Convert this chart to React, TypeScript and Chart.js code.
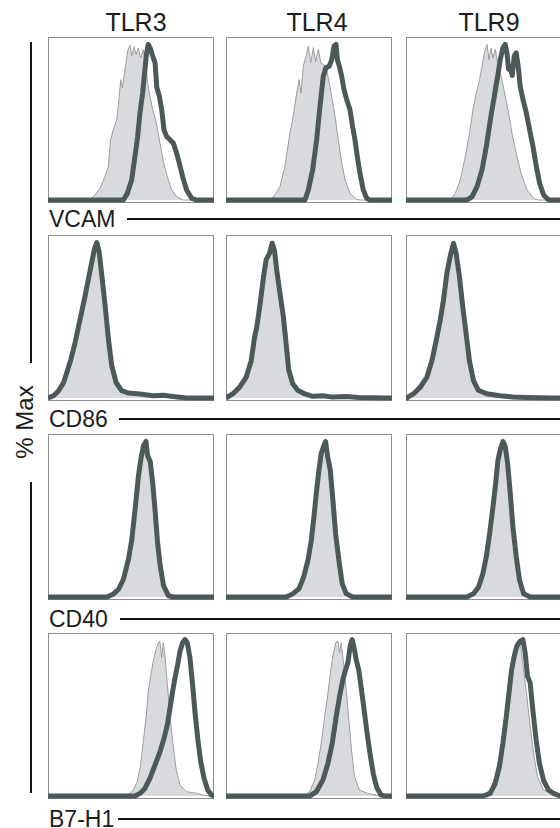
import React, { useEffect, useRef } from "react";
import { Chart, registerables } from "chart.js";

Chart.register(...registerables);

// Column stimuli and row markers
const COLUMN_TITLES = ["TLR3", "TLR4", "TLR9"];
const MARKERS = ["VCAM", "CD86", "CD40", "B7-H1"];
const Y_AXIS_TITLE = "% Max";

// Histograms: [fluorescence channel (0-1000), % of max]
// VCAM
const vcamTlr3Ctrl = [[0,0],[252,0],[283,3.2],[313,7.5],[343,15],[363,21.5],[377,38.7],[393,45],[414,51.6],[429,66.6],[438,77.4],[448,72],[458,79.5],[470,88],[482,96.8],[494,99.4],[504,92.5],[518,98.5],[530,93.5],[544,97.8],[558,91.4],[574,96.8],[590,83.9],[610,68.8],[631,58],[651,50.5],[671,38.7],[695,24.7],[719,15],[745,6.5],[775,2.2],[815,0],[1000,0]];
const vcamTlr3Stim = [[0,0],[454,0],[478,4.3],[504,12.9],[524,28],[540,40.8],[554,56],[570,68.8],[584,83.9],[594,94.6],[604,100],[619,96.8],[631,92.5],[645,88.2],[655,72.5],[671,66.6],[685,58],[699,45],[715,40.8],[735,38.7],[755,36.6],[775,30],[791,23.7],[811,15],[835,6.5],[866,1],[896,0],[1000,0]];
const vcamTlr4Ctrl = [[0,0],[265,0],[295,3.2],[325,8.6],[355,21.5],[385,43],[405,53.7],[426,68.8],[440,77.4],[452,68.8],[466,86],[482,92.5],[496,99],[510,88],[526,98],[540,89],[556,96.8],[572,88],[602,86],[626,73],[651,58],[671,43],[691,28],[717,12.9],[747,4.3],[787,0.4],[810,0],[1000,0]];
const vcamTlr4Stim = [[0,0],[476,0],[496,6.5],[522,19.4],[546,38.7],[566,60],[586,79.5],[602,85],[622,86],[637,90.3],[651,99],[663,100],[671,90],[683,86],[697,79.5],[711,71],[727,64.5],[747,58],[763,47],[777,38.7],[791,28],[807,17.2],[827,6.5],[848,1],[867,0],[1000,0]];
const vcamTlr9Ctrl = [[0,0],[267,0],[297,4.3],[327,12.9],[357,28],[383,43],[403,58],[423,68.8],[443,77.4],[458,86],[472,94.6],[488,100],[500,90.3],[512,97.8],[524,91.4],[538,96.8],[552,88],[578,77.4],[598,66.7],[618,56],[638,43],[664,30],[693,17.2],[729,6.5],[769,1],[799,0],[1000,0]];
const vcamTlr9Stim = [[0,0],[367,0],[397,2],[428,8.6],[458,19.4],[484,34.4],[508,51.6],[532,66.7],[552,79.5],[568,90.3],[584,97.8],[598,100],[608,94.6],[618,84],[628,86],[640,80],[652,92.5],[664,94.6],[676,86],[688,73],[705,64.5],[725,56],[745,45],[765,34.4],[785,21.5],[805,10.8],[829,3.2],[859,0],[1000,0]];

// CD86
const cd86Tlr3Ctrl = [[0,0],[20,0],[50,2.5],[80,6.5],[110,14],[135,23],[162,34],[192,49],[222,64],[244,75],[264,86],[280,95],[294,99.5],[308,93],[322,78],[342,58],[362,36],[382,19],[406,9],[440,4],[480,2.5],[560,2],[640,1],[720,1],[800,0],[1000,0]];
const cd86Tlr3Stim = [[0,0],[4,0],[34,1.5],[64,4.7],[94,10],[114,16.6],[138,25],[164,36],[194,51],[224,66],[244,76.8],[264,87.5],[280,96],[294,100],[308,94],[324,79],[344,59.5],[364,38],[384,20.8],[410,10],[444,4.7],[484,3.2],[554,2.6],[634,1.5],[694,1.8],[754,1],[834,0],[1000,0]];
const cd86Tlr4Ctrl = [[0,0],[20,0],[60,3],[100,8],[135,16],[160,28],[180,42],[205,60],[226,76],[244,88],[264,93],[280,99],[294,93],[308,80],[324,66],[346,49],[362,33],[378,17],[400,8],[430,4],[480,2],[560,1],[700,0.5],[1000,0]];
const cd86Tlr4Stim = [[0,0],[2,0],[42,2.8],[82,7],[122,13.5],[152,24],[172,39],[186,46],[206,61],[226,78],[242,89],[262,93],[278,99.5],[292,95],[306,82],[322,69.5],[346,52],[362,35],[378,18],[402,9.2],[432,5],[472,2.8],[522,1.1],[582,1.5],[642,0.6],[722,1],[802,0.3],[962,0],[1000,0]];
const cd86Tlr9Ctrl = [[0,0],[20,0.5],[60,3.5],[100,9],[135,17],[160,28],[185,42],[205,56],[225,69],[245,83],[266,93],[284,99.5],[300,93],[320,76],[340,56],[360,38],[380,21],[404,10],[436,4.5],[490,2.5],[570,1.2],[700,0.4],[1000,0]];
const cd86Tlr9Stim = [[0,0],[6,0.2],[46,2.8],[86,7],[126,13.5],[156,24],[182,37],[206,50],[226,63],[246,80],[266,91],[286,99.5],[302,93],[322,78],[342,58.7],[362,41.5],[382,24],[406,11.4],[436,5],[486,2.8],[566,1.5],[646,0.6],[726,0.3],[886,0],[1000,0]];

// CD40
const cd40Tlr3Ctrl = [[0,0],[370,0],[405,2],[435,5.5],[462,12],[490,25],[510,39],[530,58],[548,78],[562,90],[578,98],[592,99],[604,90],[618,84],[632,68],[646,50],[658,32],[672,18],[692,6.5],[720,1],[750,0],[1000,0]];
const cd40Tlr3Stim = [[0,0],[355,0],[395,2],[425,5],[455,11.6],[485,24.5],[505,37],[525,56.8],[545,78],[560,89],[576,97.6],[590,100],[600,91],[616,87],[632,72],[646,54.6],[660,35],[676,20],[696,7.3],[726,0.8],[756,0],[1000,0]];
const cd40Tlr4Ctrl = [[0,0],[380,0],[415,2],[448,5.5],[474,13],[498,24],[518,38],[534,53],[548,68],[562,82],[576,92],[590,97],[602,99],[612,90],[626,80],[642,60],[658,39],[676,22],[696,8],[720,2],[760,0],[1000,0]];
const cd40Tlr4Stim = [[0,0],[364,0],[404,2.2],[440,5.4],[468,13],[494,23.7],[514,36.6],[530,51.6],[544,66.7],[560,81.7],[574,92.5],[588,96.8],[600,100],[612,90.3],[628,81.7],[644,62.4],[660,41],[680,23.7],[700,8.6],[724,2.2],[764,0],[1000,0]];
const cd40Tlr9Ctrl = [[0,0],[380,0],[415,2],[445,6.5],[470,15],[490,27],[508,42],[526,59],[542,74],[556,88],[570,95],[584,99],[598,95],[610,85],[626,65],[642,44],[660,25],[680,10],[704,2],[740,0],[1000,0]];
const cd40Tlr9Stim = [[0,0],[367,0],[407,2.2],[437,6.5],[463,15],[484,26],[504,41],[524,58],[540,73],[554,88],[568,94.6],[584,100],[598,96.8],[612,86],[628,66.7],[644,45],[664,26],[684,10.8],[708,2.2],[748,0],[1000,0]];

// B7-H1
const b7h1Tlr3Ctrl = [[0,0],[470,0],[484,0.6],[514,3.9],[538,9.3],[558,20],[574,35],[590,50],[604,67],[620,78],[634,86.7],[650,94],[664,98.5],[674,99.5],[685,89],[694,98.5],[704,91],[719,71.6],[735,52],[751,35],[771,17.8],[795,7],[835,2.8],[896,1.7],[935,0.6],[976,0],[1000,0]];
const b7h1Tlr3Stim = [[0,0],[524,0],[554,1.7],[584,4.9],[614,11.4],[645,20],[675,28.6],[699,37],[719,45.8],[735,56.6],[751,67.3],[765,76],[781,84.4],[795,93],[811,98.5],[825,100.6],[839,98.5],[855,89],[871,71.6],[885,54.5],[902,37],[920,22],[940,11.4],[962,3.9],[986,0.6],[1000,0]];
const b7h1Tlr4Ctrl = [[0,0],[474,0.6],[504,2.8],[534,10.3],[554,21],[574,34],[594,51],[614,66],[628,79],[644,89.9],[660,98.5],[674,99.6],[684,92],[694,98.5],[708,85.6],[724,68.4],[740,49],[756,29.7],[774,12.5],[804,3.9],[854,1.7],[906,0.6],[940,0],[1000,0]];
const b7h1Tlr4Stim = [[0,0],[504,0],[544,2.8],[584,10.3],[614,21],[640,34],[664,51],[684,64],[704,74.8],[720,81],[734,85.6],[748,96.3],[760,100.6],[774,94],[784,87.7],[800,81],[814,70],[830,57],[848,42],[868,27],[888,14],[908,5.6],[934,0.6],[964,0],[1000,0]];
const b7h1Tlr9Ctrl = [[0,0],[467,0.6],[507,3.9],[537,12.5],[563,25.4],[588,42.5],[608,60],[628,77],[648,94],[664,98.5],[678,99.6],[694,94],[708,81],[728,64],[748,45],[768,27.6],[792,12.5],[828,3.9],[889,1.3],[929,0.6],[960,0],[1000,0]];
const b7h1Tlr9Stim = [[0,0],[467,0],[507,1.7],[537,8],[563,19],[584,34],[604,51],[620,66],[636,81],[652,89.9],[668,96.3],[688,99.6],[704,100.6],[718,92],[732,77],[748,72.7],[764,55.5],[784,36],[804,21],[828,10.3],[858,3.9],[889,1.7],[929,0],[1000,0]];

// rows x columns of [control, stimulated]
const GRID = [
  [[vcamTlr3Ctrl, vcamTlr3Stim], [vcamTlr4Ctrl, vcamTlr4Stim], [vcamTlr9Ctrl, vcamTlr9Stim]],
  [[cd86Tlr3Ctrl, cd86Tlr3Stim], [cd86Tlr4Ctrl, cd86Tlr4Stim], [cd86Tlr9Ctrl, cd86Tlr9Stim]],
  [[cd40Tlr3Ctrl, cd40Tlr3Stim], [cd40Tlr4Ctrl, cd40Tlr4Stim], [cd40Tlr9Ctrl, cd40Tlr9Stim]],
  [[b7h1Tlr3Ctrl, b7h1Tlr3Stim], [b7h1Tlr4Ctrl, b7h1Tlr4Stim], [b7h1Tlr9Ctrl, b7h1Tlr9Stim]],
];

// layout
const PANEL = 166;
const COL_LEFT = [48, 226, 406];
const ROW_TOP = [37, 235, 434, 633];
const TITLE_CENTER_X = [136, 317, 489];
const ROW_LABEL_CENTER_Y = [219, 419, 619, 819];
const RULE_START_X = [127, 119, 120, 118];

const FONT = '"Liberation Sans", Arial, Helvetica, sans-serif';
const INK = "#1c1c1c";

const framePlugin = {
  id: "panelFrame",
  beforeDatasetsDraw(chart: any) {
    const { ctx, width, height } = chart;
    ctx.save();
    ctx.strokeStyle = "#8e8e8e";
    ctx.lineWidth = 1;
    ctx.strokeRect(0.5, 0.5, width - 1, height - 1);
    ctx.restore();
  },
};

const toXY = (pts: number[][]) => pts.map(([x, y]) => ({ x, y }));

function Histogram({ ctrl, stim, left, top }: { ctrl: number[][]; stim: number[][]; left: number; top: number }) {
  const ref = useRef<HTMLCanvasElement | null>(null);
  useEffect(() => {
    if (!ref.current) return;
    const chart = new Chart(ref.current, {
      type: "line",
      data: {
        datasets: [
          {
            data: toXY(stim),
            borderColor: "#4b5958",
            borderWidth: 5,
            borderJoinStyle: "round",
            pointRadius: 0,
            fill: false,
            tension: 0,
          },
          {
            data: toXY(ctrl),
            borderColor: "#9d9d9d",
            borderWidth: 1,
            backgroundColor: "#d9dadd",
            pointRadius: 0,
            fill: "origin",
            tension: 0,
          },
        ],
      } as any,
      options: {
        animation: false,
        responsive: false,
        events: [],
        layout: { padding: 0 },
        plugins: { legend: { display: false }, tooltip: { enabled: false } },
        scales: {
          x: { type: "linear", min: 0, max: 1000, display: false },
          y: { type: "linear", min: -1.9, max: 104.8, display: false },
        },
      } as any,
      plugins: [framePlugin],
    });
    return () => chart.destroy();
  }, [ctrl, stim]);
  return (
    <canvas
      ref={ref}
      width={PANEL}
      height={PANEL}
      style={{ position: "absolute", left, top, width: PANEL, height: PANEL }}
    />
  );
}

export default function App() {
  return (
    <div
      style={{
        position: "fixed",
        left: 0,
        top: 0,
        width: 560,
        height: 828,
        overflow: "hidden",
        background: "#ffffff",
        fontFamily: FONT,
        color: INK,
      }}
    >
      {COLUMN_TITLES.map((t, i) => (
        <div
          key={t}
          style={{
            position: "absolute",
            left: TITLE_CENTER_X[i] - 60,
            top: 10.3,
            width: 120,
            textAlign: "center",
            fontSize: 25,
            lineHeight: "25px",
            whiteSpace: "nowrap",
          }}
        >
          {t}
        </div>
      ))}

      {GRID.map((row, r) =>
        row.map(([ctrl, stim], c) => (
          <Histogram key={`${r}-${c}`} ctrl={ctrl} stim={stim} left={COL_LEFT[c]} top={ROW_TOP[r]} />
        ))
      )}

      {MARKERS.map((m, r) => (
        <React.Fragment key={m}>
          <div
            style={{
              position: "absolute",
              left: 49,
              top: ROW_LABEL_CENTER_Y[r] - 11.3,
              fontSize: 23,
              lineHeight: "23px",
              whiteSpace: "nowrap",
            }}
          >
            {m}
          </div>
          <div
            style={{
              position: "absolute",
              left: RULE_START_X[r],
              top: ROW_LABEL_CENTER_Y[r] - 1,
              width: 560 - RULE_START_X[r],
              height: 2,
              background: "#151515",
            }}
          />
        </React.Fragment>
      ))}

      {/* y-axis title with its bracket lines */}
      <div style={{ position: "absolute", left: 30, top: 42, width: 2, height: 321, background: "#151515" }} />
      <div style={{ position: "absolute", left: 30, top: 482, width: 2, height: 311, background: "#151515" }} />
      <div
        style={{
          position: "absolute",
          left: 24.5 - 60,
          top: 422 - 12,
          width: 120,
          height: 24,
          lineHeight: "24px",
          fontSize: 24,
          textAlign: "center",
          whiteSpace: "nowrap",
          transform: "rotate(-90deg)",
        }}
      >
        {Y_AXIS_TITLE}
      </div>
    </div>
  );
}
